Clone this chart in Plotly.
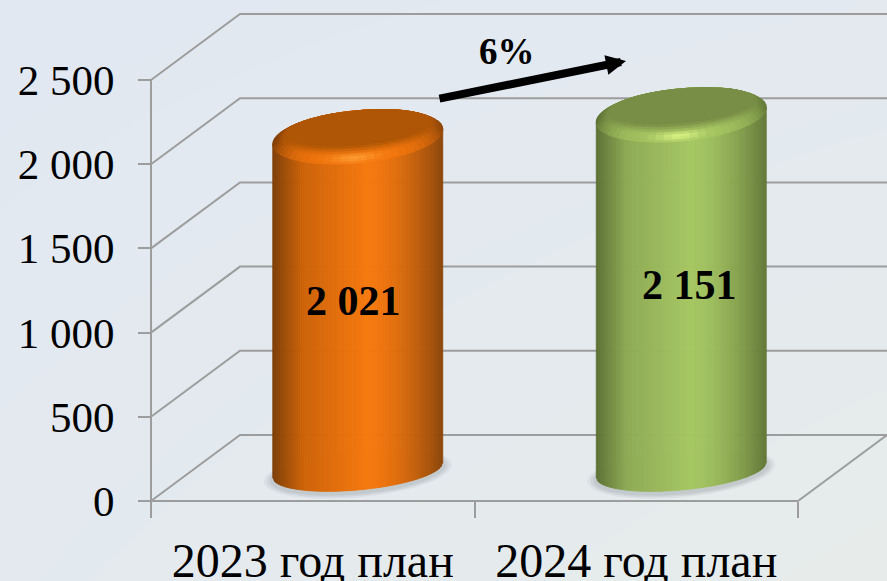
import numpy as np
import plotly.graph_objects as go

categories = ["2023 год план", "2024 год план"]
values = [2021, 2151]
value_labels = ["2 021", "2 151"]
y_ticks = [0, 500, 1000, 1500, 2000, 2500]
y_tick_labels = ["0", "500", "1 000", "1 500", "2 000", "2 500"]
change_label = "6%"

W, H = 887, 581
PX_PER_X = 323.5
PX_PER_V = 421 / 2500


def X(px):
    return (px - 151) / PX_PER_X - 0.5


def V(py):
    return (501 - py) / PX_PER_V


def dX(px):
    return px / PX_PER_X


def dV(px):
    return px / PX_PER_V


DEPTH_X, DEPTH_V = dX(89), dV(66)
GRID = "#9d9d9d"
FONT = "Liberation Serif"

styles = [
    dict(edgeL=(125, 62, 8), mid1=(205, 98, 8), mid=(246, 120, 14), edgeR=(140, 70, 10),
         cap=(174, 86, 6), hi=(252, 155, 50)),
    dict(edgeL=(92, 112, 52), mid1=(142, 170, 84), mid=(166, 198, 98), edgeR=(98, 120, 56),
         cap=(120, 141, 70), hi=(214, 240, 130)),
]


def lerp(a, b, u):
    return tuple(a[i] + (b[i] - a[i]) * u for i in range(3))


def rgb(c):
    return "rgb(%d,%d,%d)" % tuple(int(round(min(255, max(0, k)))) for k in c)


def shade(st, u):
    s = (u + 1) / 2
    if s < 0.18:
        return lerp(st["edgeL"], st["mid1"], s / 0.18)
    if s < 0.55:
        return lerp(st["mid1"], st["mid"], (s - 0.18) / 0.37)
    return lerp(st["mid"], st["edgeR"], ((s - 0.55) / 0.45) ** 1.7)


fig = go.Figure()
fig.add_trace(go.Heatmap(
    x=[X(0), X(W)], y=[V(H), V(0)],
    z=[[0.35, 1.0], [0.0, 0.25]], zsmooth="best", showscale=False, hoverinfo="skip",
    colorscale=[[0, "#e1e8f1"], [1, "#e7eceb"]], zmin=0, zmax=1,
))


def line(xs, ys, width=2.0, color=GRID):
    fig.add_trace(go.Scatter(x=xs, y=ys, mode="lines", line=dict(color=color, width=width),
                             hoverinfo="skip", showlegend=False))


x_front, x_end = X(151), X(798)
x_right = X(W + 2)
for t in y_ticks:
    line([x_front, x_front + DEPTH_X, x_right], [t, t + DEPTH_V, t + DEPTH_V])
line([x_front, x_front], [y_ticks[0], y_ticks[-1]])
line([x_front, x_end], [0, 0])
line([x_end, x_end + DEPTH_X], [0, DEPTH_V])

A = dX(85)
TILT = (15 / 170) * PX_PER_X / PX_PER_V
BASE_V = V(470)
B_BOT = dV(20)
B_TOP = dV(26)
INNER_A = dX(72)
INNER_B = dV(17)
INNER_DV = dV(9)
N_SLICE = 85


def ell(cx, cv, a, b, t):
    return cx + a * np.cos(t), cv + b * np.sin(t) + TILT * a * np.cos(t)


def poly(xs, ys, color, width=1.2):
    fig.add_trace(go.Scatter(x=xs, y=ys, mode="lines", fill="toself", fillcolor=color,
                             line=dict(color=color, width=width), hoverinfo="skip", showlegend=False))


for i, val in enumerate(values):
    st = styles[i]
    cx = i + DEPTH_X / 2 + dX(0.5)
    top = val + 142
    tt = np.linspace(0, 2 * np.pi, 73)
    # floor shadow
    for grow, alpha in ((9, 0.12), (6, 0.16), (3, 0.2)):
        sx, sy = ell(cx, BASE_V - dV(3), A + dX(grow), B_BOT + dV(grow * 0.5), tt)
        fig.add_trace(go.Scatter(x=sx, y=sy, mode="lines", fill="toself",
                                 fillcolor="rgba(150,158,162,%.2f)" % alpha,
                                 line=dict(width=0), hoverinfo="skip", showlegend=False))
    # cylinder body from narrow slices
    edges = np.linspace(-1, 1, N_SLICE + 1)
    for k in range(N_SLICE):
        u0, u1 = edges[k], edges[k + 1]
        um = (u0 + u1) / 2
        b0 = BASE_V - B_BOT * np.sqrt(max(0, 1 - u0 ** 2)) + TILT * A * u0
        b1 = BASE_V - B_BOT * np.sqrt(max(0, 1 - u1 ** 2)) + TILT * A * u1
        t0 = top + TILT * A * u0
        t1 = top + TILT * A * u1
        x0, x1 = cx + A * u0, cx + A * u1
        poly([x0, x1, x1, x0, x0], [b0, b1, t1, t0, b0], rgb(shade(st, um)), width=0.8)
    # bevel rim from wedges
    n_wedge, n_ring = 60, 7
    wedge = np.linspace(0, 2 * np.pi, n_wedge + 1)
    for r in range(n_ring):
        u0, u1 = r / n_ring, (r + 1) / n_ring
        um = (u0 + u1) / 2
        a0, b0, c0 = A + (INNER_A - A) * u0, B_TOP + (INNER_B - B_TOP) * u0, top + INNER_DV * u0
        a1, b1, c1 = A + (INNER_A - A) * u1, B_TOP + (INNER_B - B_TOP) * u1, top + INNER_DV * u1
        for k in range(n_wedge):
            t0, t1 = wedge[k], wedge[k + 1]
            tm = (t0 + t1) / 2
            xa, ya = ell(cx, c0, a0, b0, np.array([t0, t1]))
            xb, yb = ell(cx, c1, a1, b1, np.array([t1, t0]))
            c = shade(st, np.cos(tm) * (1 - 0.15 * um))
            front = max(0.0, -np.sin(tm))
            c = lerp(c, st["mid"], front * 0.8)
            glow = np.exp(-((np.cos(tm) + 0.03) / 0.28) ** 2) * front ** 2 * np.exp(-((um - 0.32) / 0.24) ** 2)
            c = lerp(c, st["hi"], glow)
            c = lerp(c, st["cap"], max(0.0, (um - 0.45) / 0.55) ** 1.3)
            poly(list(xa) + list(xb) + [xa[0]], list(ya) + list(yb) + [ya[0]], rgb(c))
    cxx, cyy = ell(cx, top + INNER_DV, INNER_A, INNER_B, tt)
    poly(cxx, cyy, rgb(st["cap"]))

# bar value labels
label_px = [(353, 301), (689, 285)]
annotations = [
    dict(x=X(p[0]), y=V(p[1]), text=lab, showarrow=False, xanchor="center", yanchor="middle",
         font=dict(family=FONT, size=42, color="#000000"))
    for lab, p in zip(["<b>%s</b>" % s for s in value_labels], label_px)
]
annotations.append(dict(x=X(507), y=V(51), text="<b>%s</b>" % change_label, showarrow=False,
                        font=dict(family=FONT, size=37, color="#000000")))
annotations.append(dict(x=X(626), y=V(61), ax=X(438), ay=V(99), xref="x", yref="y", axref="x", ayref="y",
                        text="", showarrow=True, arrowhead=2, arrowsize=0.5, arrowwidth=8,
                        arrowcolor="#000000", standoff=0))

fig.update_layout(
    width=W, height=H, autosize=False, margin=dict(l=0, r=0, t=0, b=0, autoexpand=False),
    paper_bgcolor="#e3e9f0", plot_bgcolor="rgba(0,0,0,0)", showlegend=False,
    annotations=annotations,
    font=dict(family=FONT, color="#000000"),
    xaxis=dict(
        range=[X(0), X(W)], domain=[0, 1], anchor="free", position=(H - 501) / H, automargin=False,
        tickmode="array", tickvals=[0, 1], ticktext=categories, ticks="", showgrid=False,
        zeroline=False, showline=False, tickfont=dict(family=FONT, size=48, color="#000000"),
        ticklabelstandoff=27,
        minor=dict(tickmode="array", tickvals=[-0.5, 0.5, 1.5], ticks="outside", ticklen=16,
                   tickwidth=2, tickcolor=GRID, showgrid=False),
    ),
    yaxis=dict(
        range=[V(H), V(0)], domain=[0, 1], anchor="free", position=151 / W, automargin=False,
        tickmode="array", tickvals=y_ticks, ticktext=y_tick_labels, ticks="outside", ticklen=13,
        tickwidth=2, tickcolor=GRID, showgrid=False, zeroline=False, showline=False,
        tickfont=dict(family=FONT, size=43, color="#000000"), ticklabelstandoff=15,
    ),
)

fig.write_html("out.html", config={"displayModeBar": False},
               post_script="document.body.style.margin='0';document.documentElement.style.overflow='hidden';")
